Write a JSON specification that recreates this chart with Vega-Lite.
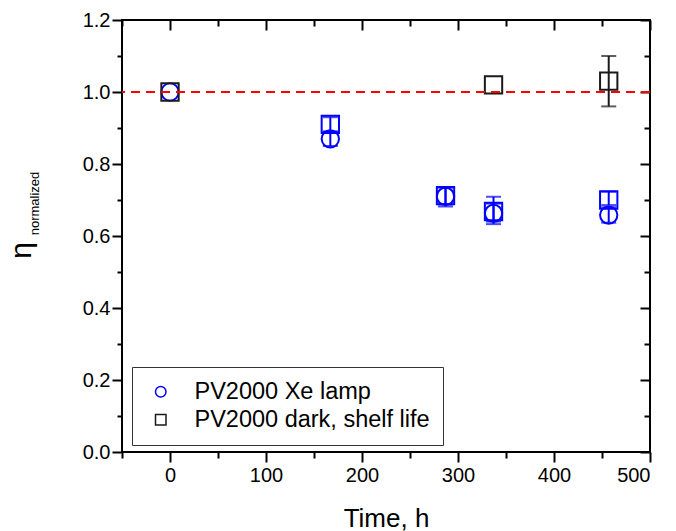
{
  "$schema": "https://vega.github.io/schema/vega-lite/v6.json",
  "width": 528,
  "height": 432,
  "autosize": "none",
  "padding": {"left": 122, "top": 20, "right": 26, "bottom": 79},
  "background": "white",
  "config": {
    "view": {"stroke": "black", "strokeWidth": 2},
    "font": "Liberation Sans",
    "axis": {"grid": false, "domain": false, "tickColor": "black", "tickWidth": 2, "labelColor": "black", "titleColor": "black", "titleFontWeight": "normal", "labelFont": "Liberation Sans", "titleFont": "Liberation Sans"},
    "legend": {"orient": "none", "legendX": 10, "legendY": 347, "title": null, "strokeColor": "#333", "fillColor": "white", "padding": 13, "labelFontSize": 23.5, "labelLimit": 400, "labelFont": "Liberation Sans", "labelColor": "black", "symbolSize": 110, "symbolStrokeWidth": 1.5, "labelOffset": 22, "symbolOffset": 4, "rowPadding": 3}
  },
  "datasets": {
    "pts": [
      {"t": 0, "v": 1.0, "s": "PV2000 Xe lamp"},
      {"t": 167, "v": 0.87, "s": "PV2000 Xe lamp"},
      {"t": 287, "v": 0.71, "s": "PV2000 Xe lamp"},
      {"t": 337, "v": 0.663, "s": "PV2000 Xe lamp"},
      {"t": 457, "v": 0.658, "s": "PV2000 Xe lamp"},
      {"t": 167, "v": 0.91, "s": "PV2000 Xe lamp 2"},
      {"t": 287, "v": 0.712, "s": "PV2000 Xe lamp 2"},
      {"t": 337, "v": 0.668, "s": "PV2000 Xe lamp 2"},
      {"t": 457, "v": 0.70, "s": "PV2000 Xe lamp 2"},
      {"t": 0, "v": 1.0, "s": "PV2000 dark, shelf life"},
      {"t": 337, "v": 1.02, "s": "PV2000 dark, shelf life"},
      {"t": 457, "v": 1.03, "s": "PV2000 dark, shelf life"}
    ],
    "errs": [
      {"t": 167, "lo": 0.85, "hi": 0.89, "s": "PV2000 Xe lamp"},
      {"t": 287, "lo": 0.682, "hi": 0.735, "s": "PV2000 Xe lamp"},
      {"t": 337, "lo": 0.633, "hi": 0.69, "s": "PV2000 Xe lamp"},
      {"t": 457, "lo": 0.637, "hi": 0.68, "s": "PV2000 Xe lamp"},
      {"t": 167, "lo": 0.89, "hi": 0.93, "s": "PV2000 Xe lamp 2"},
      {"t": 287, "lo": 0.688, "hi": 0.735, "s": "PV2000 Xe lamp 2"},
      {"t": 337, "lo": 0.64, "hi": 0.709, "s": "PV2000 Xe lamp 2"},
      {"t": 457, "lo": 0.686, "hi": 0.723, "s": "PV2000 Xe lamp 2"},
      {"t": 457, "lo": 0.96, "hi": 1.10, "s": "PV2000 dark, shelf life"}
    ]
  },
  "resolve": {"axis": {"x": "independent", "y": "independent"}, "legend": {"color": "independent", "shape": "independent"}},
  "layer": [
    {
      "data": {"name": "errs"},
      "mark": {"type": "rule", "strokeWidth": 2},
      "encoding": {
        "x": {"field": "t", "type": "quantitative", "scale": {"domain": [-50, 500], "nice": false, "zero": false},
          "axis": {"orient": "bottom", "values": [0, 100, 200, 300, 400, 500], "tickSize": 10, "labelFontSize": 20, "labelPadding": 3, "title": "Time, h", "titleFontSize": 26, "titleBaseline": "alphabetic", "titleY": 74}},
        "y": {"field": "lo", "type": "quantitative", "scale": {"domain": [0, 1.2], "nice": false, "zero": false},
          "axis": {"orient": "left", "values": [0, 0.2, 0.4, 0.6, 0.8, 1.0, 1.2], "format": ".1f", "tickSize": 10, "labelFontSize": 20, "labelPadding": 2, "title": "η", "titleFontSize": 30, "titleAngle": -90, "titleAlign": "center", "titleBaseline": "alphabetic", "titleX": -92, "titleY": 230}},
        "y2": {"field": "hi"},
        "color": {"field": "s", "type": "nominal", "legend": null,
          "scale": {"domain": ["PV2000 Xe lamp", "PV2000 Xe lamp 2", "PV2000 dark, shelf life"], "range": ["#0000ff", "#0000ff", "#1a1a1a"]}}
      }
    },
    {
      "data": {"name": "errs"},
      "mark": {"type": "tick", "orient": "horizontal", "size": 15, "thickness": 2},
      "encoding": {
        "x": {"field": "t", "type": "quantitative",
          "axis": {"orient": "bottom", "values": [-50, 50, 150, 250, 350, 450], "tickSize": 6, "labels": false, "title": null}},
        "y": {"field": "lo", "type": "quantitative",
          "axis": {"orient": "left", "values": [0.1, 0.3, 0.5, 0.7, 0.9, 1.1], "tickSize": 5, "labels": false, "title": null}},
        "color": {"field": "s", "type": "nominal", "legend": null}
      }
    },
    {
      "data": {"name": "errs"},
      "mark": {"type": "tick", "orient": "horizontal", "size": 15, "thickness": 2},
      "encoding": {
        "x": {"field": "t", "type": "quantitative",
          "axis": {"orient": "top", "values": [0, 100, 200, 300, 400, 500], "tickSize": -10, "labels": false, "title": null}},
        "y": {"field": "hi", "type": "quantitative",
          "axis": {"orient": "right", "values": [0, 0.2, 0.4, 0.6, 0.8, 1.0, 1.2], "tickSize": -10, "labels": false, "title": null}},
        "color": {"field": "s", "type": "nominal", "legend": null}
      }
    },
    {
      "data": {"name": "pts"},
      "mark": {"type": "point", "filled": false, "size": 300, "strokeWidth": 2, "opacity": 1},
      "encoding": {
        "x": {"field": "t", "type": "quantitative",
          "axis": {"orient": "top", "values": [-50, 50, 150, 250, 350, 450], "tickSize": -6, "labels": false, "title": null}},
        "y": {"field": "v", "type": "quantitative",
          "axis": {"orient": "right", "values": [0.1, 0.3, 0.5, 0.7, 0.9, 1.1], "tickSize": -6, "labels": false, "title": null}},
        "color": {"field": "s", "type": "nominal", "legend": {"values": ["PV2000 Xe lamp", "PV2000 dark, shelf life"]}},
        "shape": {"field": "s", "type": "nominal",
          "scale": {"domain": ["PV2000 Xe lamp", "PV2000 Xe lamp 2", "PV2000 dark, shelf life"], "range": ["circle", "square", "square"]},
          "legend": {"values": ["PV2000 Xe lamp", "PV2000 dark, shelf life"]}}
      }
    },
    {
      "data": {"values": [{"ref": 1.0}]},
      "mark": {"type": "rule", "color": "#ff0000", "strokeWidth": 2, "strokeDash": [9, 6]},
      "encoding": {
        "y": {"field": "ref", "type": "quantitative",
          "axis": {"orient": "left", "values": [], "ticks": false, "labels": false, "title": "normalized", "titleFontSize": 13, "titleAngle": -90, "titleAlign": "center", "titleBaseline": "alphabetic", "titleX": -84, "titleY": 183}}
      }
    }
  ]
}
